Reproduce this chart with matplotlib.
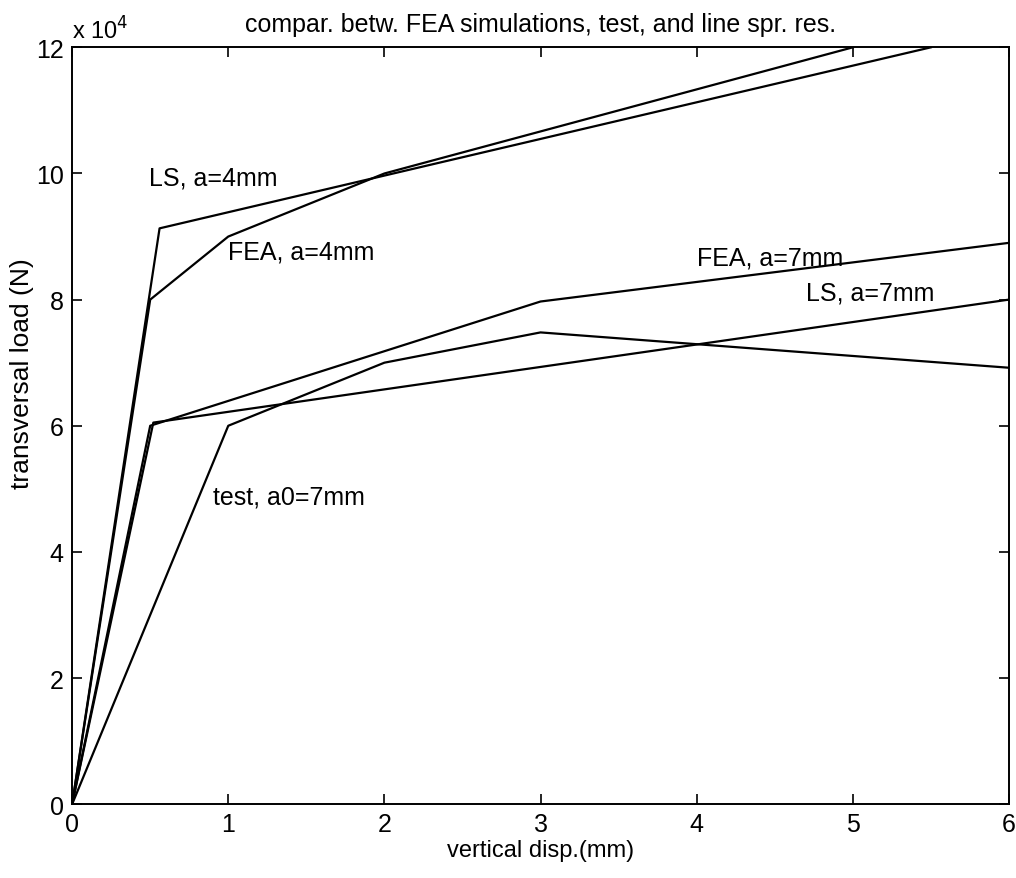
import matplotlib.pyplot as plt
from matplotlib.ticker import FuncFormatter

plt.rcParams['font.family'] = ['Liberation Sans', 'DejaVu Sans']

# load-displacement curves, disp in mm, load in N
fea4_x = [0, 0.5, 1.0, 2.0, 5.0]
fea4_y = [0, 80000, 90000, 100000, 120000]
ls4_x = [0, 0.56, 5.5]
ls4_y = [0, 91300, 120000]
fea7_x = [0, 0.5, 3.0, 6.0]
fea7_y = [0, 60000, 79700, 89000]
ls7_x = [0, 0.52, 6.0]
ls7_y = [0, 60500, 80000]
test_x = [0, 1.0, 2.0, 3.0, 6.0]
test_y = [0, 60000, 70000, 74800, 69200]

labels = ['LS, a=4mm', 'FEA, a=4mm', 'FEA, a=7mm', 'LS, a=7mm', 'test, a0=7mm']
label_x = [0.49, 1.0, 4.0, 4.7, 0.9]
label_y = [99400, 87600, 86700, 81100, 48800]

fig = plt.figure(figsize=(10.16, 8.79), dpi=100)
ax = fig.add_axes([0.071, 0.084, 0.922, 0.861])

for xs, ys in [(fea4_x, fea4_y), (ls4_x, ls4_y), (fea7_x, fea7_y),
               (ls7_x, ls7_y), (test_x, test_y)]:
    ax.plot(xs, ys, color='black', lw=1.6)

for t, x, y in zip(labels, label_x, label_y):
    ax.text(x, y, t, fontsize=18, va='center', ha='left')

ax.set_xlim(0, 6)
ax.set_ylim(0, 120000)
ax.set_xticks(range(0, 7))
ax.set_yticks(range(0, 120001, 20000))
ax.yaxis.set_major_formatter(FuncFormatter(lambda v, p: '%g' % (v / 1e4)))
ax.tick_params(direction='in', length=7, width=1.2, labelsize=18,
               top=True, right=True, pad=6)
for s in ax.spines.values():
    s.set_linewidth(1.4)

ax.text(0.0, 1.005, r'x 10$^4$', transform=ax.transAxes, fontsize=17,
        ha='left', va='bottom')
ax.set_title('compar. betw. FEA simulations, test, and line spr. res.',
             fontsize=18, pad=12)
ax.set_xlabel('vertical disp.(mm)', fontsize=17, labelpad=2)
ax.set_ylabel('transversal load (N)', fontsize=19)
ax.yaxis.set_label_coords(-0.041, 0.57)

fig.savefig('out.png', dpi=100)
